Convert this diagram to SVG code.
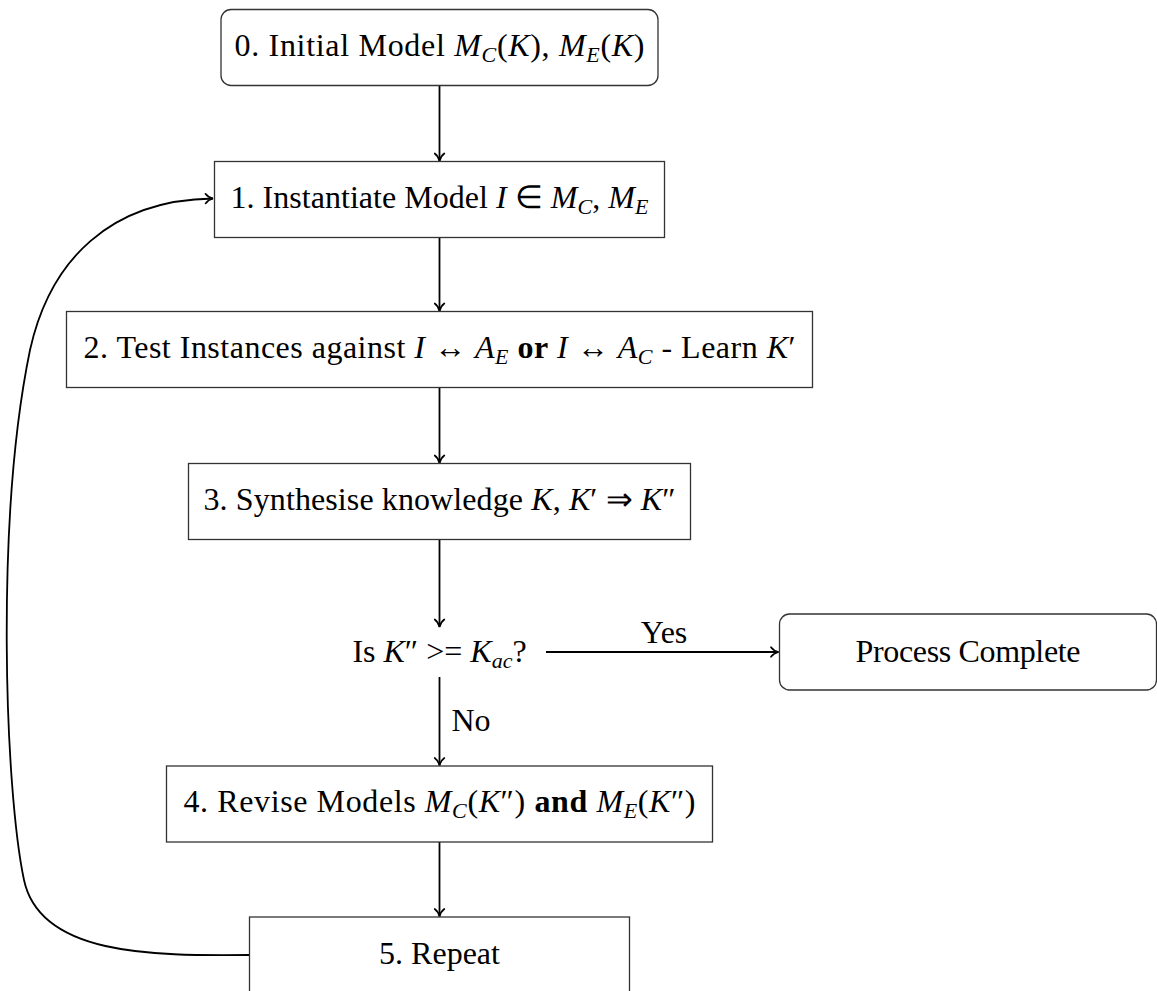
<svg xmlns="http://www.w3.org/2000/svg" width="1157" height="991" viewBox="0 0 1157 991">
<style>
  .box { fill: #fff; stroke: #333; stroke-width: 1.3; }
  .t { font-family: "Liberation Serif", "Times New Roman", serif; font-size: 32px; fill: #000; text-anchor: middle; }
  .i { font-style: italic; }
  .s { font-style: italic; font-size: 22px; }
  .b { font-weight: bold; }
  .c { fill: none; stroke: #000; stroke-width: 1.8; marker-end: url(#arr); }
</style>
<defs>
  <marker id="arr" viewBox="-10 -6 12 12" refX="0" refY="0" markerWidth="12" markerHeight="12" orient="auto" markerUnits="userSpaceOnUse">
    <path d="M -7.5 -4.8 C -5.5 -2 -2.5 -0.6 0 0 C -2.5 0.6 -5.5 2 -7.5 4.8" fill="none" stroke="#000" stroke-width="1.7" stroke-linecap="round"/>
  </marker>
</defs>
<rect width="1157" height="991" fill="#fff"/>

<g id="connectors">
  <path class="c" d="M 439.5 85.5 L 439.5 161"/>
  <path class="c" d="M 439.5 237.5 L 439.5 311"/>
  <path class="c" d="M 439.5 387.5 L 439.5 463"/>
  <path class="c" d="M 439.5 539.5 L 439.5 627"/>
  <path class="c" d="M 546 652 L 778.5 652"/>
  <path class="c" d="M 439.5 677 L 439.5 765.5"/>
  <path class="c" d="M 439.5 842 L 439.5 916.5"/>
  <path class="c" d="M 249 955 C 150 956 40 955 24 880 C 5 790 -5 520 30 350 C 50 260 110 200 213 198.5"/>
  <text class="t" x="664" y="643">Yes</text>
  <text class="t" x="471" y="731">No</text>
</g>

<g id="n0">
  <rect class="box" x="221" y="9.5" width="437" height="76" rx="10"/>
  <text class="t" x="439.5" y="56" textLength="410">0. Initial Model <tspan class="i">M</tspan><tspan class="s" dy="6">C</tspan><tspan dy="-6">(</tspan><tspan class="i">K</tspan>), <tspan class="i">M</tspan><tspan class="s" dy="6">E</tspan><tspan dy="-6">(</tspan><tspan class="i">K</tspan>)</text>
</g>
<g id="n1">
  <rect class="box" x="214.5" y="161.5" width="450" height="76"/>
  <text class="t" x="439.5" y="208" textLength="418">1. Instantiate Model <tspan class="i">I</tspan> ∈ <tspan class="i">M</tspan><tspan class="s" dy="6">C</tspan><tspan dy="-6">, </tspan><tspan class="i">M</tspan><tspan class="s" dy="6">E</tspan></text>
</g>
<g id="n2">
  <rect class="box" x="66.5" y="311.5" width="746" height="76"/>
  <text class="t" x="439.5" y="358" textLength="712">2. Test Instances against <tspan class="i">I</tspan> ↔ <tspan class="i">A</tspan><tspan class="s" dy="6">E</tspan> <tspan class="b" dy="-6">or</tspan> <tspan class="i">I</tspan> ↔ <tspan class="i">A</tspan><tspan class="s" dy="6">C</tspan><tspan dy="-6"> - Learn </tspan><tspan class="i">K</tspan>′</text>
</g>
<g id="n3">
  <rect class="box" x="188.5" y="463.5" width="502" height="76"/>
  <text class="t" x="439.5" y="510" textLength="472">3. Synthesise knowledge <tspan class="i">K</tspan>, <tspan class="i">K</tspan>′ ⇒ <tspan class="i">K</tspan>″</text>
</g>
<g id="decision">
  <text class="t" x="439.5" y="662">Is <tspan class="i">K</tspan>″ &gt;= <tspan class="i">K</tspan><tspan class="s" dy="6">ac</tspan><tspan dy="-6">?</tspan></text>
</g>
<g id="complete">
  <rect class="box" x="779.5" y="614" width="377" height="76" rx="10"/>
  <text class="t" x="968" y="662" textLength="225">Process Complete</text>
</g>
<g id="n4">
  <rect class="box" x="166.5" y="766" width="546" height="76"/>
  <text class="t" x="439.5" y="812" textLength="512">4. Revise Models <tspan class="i">M</tspan><tspan class="s" dy="6">C</tspan><tspan dy="-6">(</tspan><tspan class="i">K</tspan>″) <tspan class="b">and</tspan> <tspan class="i">M</tspan><tspan class="s" dy="6">E</tspan><tspan dy="-6">(</tspan><tspan class="i">K</tspan>″)</text>
</g>
<g id="n5">
  <rect class="box" x="249.5" y="917" width="380" height="76"/>
  <text class="t" x="439.5" y="964">5. Repeat</text>
</g>
</svg>
